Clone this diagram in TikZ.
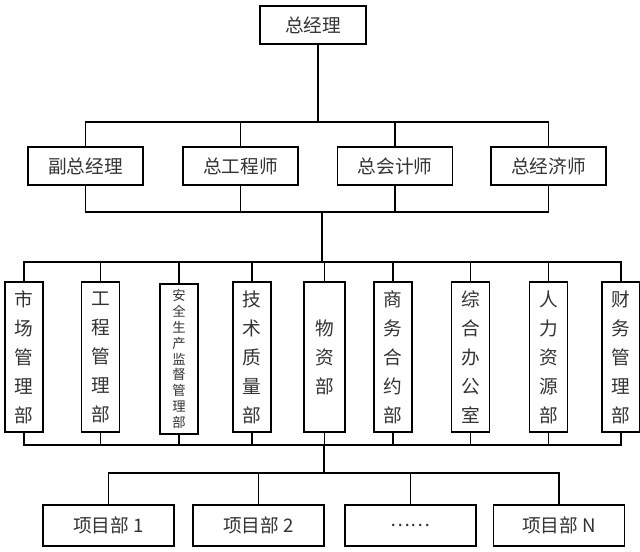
\documentclass[tikz,border=0pt]{standalone}
\usepackage{fontspec}
\newfontfamily\cjk{Noto Sans CJK SC}
\tikzset{
  post/.style={draw,line width=1pt,text=black!80,font=\cjk\fontsize{14}{17}\selectfont,
    minimum width=115*0.75pt,minimum height=38*0.75pt,inner sep=0pt},
  dept/.style={draw,line width=1pt,text=black!80,align=center,inner sep=0pt,
    font=\cjk\fontsize{14}{21.75}\selectfont,minimum width=38*0.75pt,minimum height=150*0.75pt},
  proj/.style={post,minimum width=131*0.75pt,minimum height=41*0.75pt},
  wire/.style={line width=0.9pt}
}
\begin{document}
\begin{tikzpicture}[x=0.75pt,y=-0.75pt]
  \useasboundingbox[fill=white](0,0) rectangle (640,552);
  % top
  \node[post,minimum width=106*0.75pt](gm) at (313,25){总经理};
  \node[post](vgm) at (85.5,166){副总经理};
  \node[post](eng) at (240.5,166){总工程师};
  \node[post](acc) at (395,166){总会计师};
  \node[post](eco) at (548.5,166){总经济师};
  % departments
  \node[dept](mkt) at (24,357){市\\场\\管\\理\\部};
  \node[dept](prj) at (100.5,357){工\\程\\管\\理\\部};
  \node[dept,font=\cjk\fontsize{10}{11.9}\selectfont](saf) at (179,359){安\\全\\生\\产\\监\\督\\管\\理\\部};
  \node[dept](tec) at (252,357){技\\术\\质\\量\\部};
  \node[dept,minimum width=41*0.75pt](mat) at (324.5,357){物\\资\\部};
  \node[dept](com) at (393,357){商\\务\\合\\约\\部};
  \node[dept](off) at (470.5,357){综\\合\\办\\公\\室};
  \node[dept](hr) at (548.5,357){人\\力\\资\\源\\部};
  \node[dept](fin) at (621,357){财\\务\\管\\理\\部};
  % projects
  \node[proj](p1) at (108.5,525.5){项目部 1};
  \node[proj](p2) at (258.5,525.5){项目部 2};
  \node[proj](p3) at (410.5,525.5){……};
  \node[proj](pn) at (559,525.5){项目部 N};
  % joints
  \coordinate (up) at (318,122);
  \coordinate (lo) at (322,212);
  \coordinate (mid) at (322,262);
  \coordinate (bot) at (324,445);
  \coordinate (pj) at (324,473);
  % wires
  \draw[wire](gm.south-|up)--(up);
  \draw[wire](vgm.north)--(vgm.north|-up)--(eco.north|-up)--(eco.north);
  \draw[wire](eng.north)--(eng.north|-up);
  \draw[wire](acc.north)--(acc.north|-up);
  \draw[wire](vgm.south)--(vgm.south|-lo)--(eco.south|-lo)--(eco.south);
  \draw[wire](eng.south)--(eng.south|-lo);
  \draw[wire](acc.south)--(acc.south|-lo);
  \draw[wire](lo)--(mid);
  \draw[wire](mkt.north)--(mkt.north|-mid)--(fin.north|-mid)--(fin.north);
  \draw[wire](mkt.south)--(mkt.south|-bot)--(fin.south|-bot)--(fin.south);
  \foreach \d in {prj,saf,tec,mat,com,off,hr}{
    \draw[wire](\d.north)--(\d.north|-mid);
    \draw[wire](\d.south)--(\d.south|-bot);
  }
  \draw[wire](bot)--(pj);
  \draw[wire](p1.north)--(p1.north|-pj)--(pn.north|-pj)--(pn.north);
  \draw[wire](p2.north)--(p2.north|-pj);
  \draw[wire](p3.north)--(p3.north|-pj);
\end{tikzpicture}
\end{document}
